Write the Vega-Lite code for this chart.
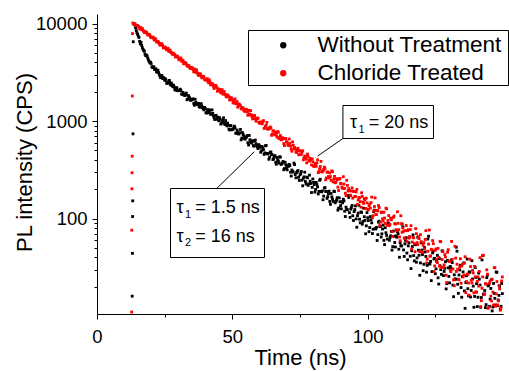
{
"$schema":"https://vega.github.io/schema/vega-lite/v6.json",
"width":406,"height":300,
"autosize":{"type":"none"},
"padding":{"left":97,"top":14,"right":6,"bottom":57},
"background":"white",
"config":{"font":"Liberation Sans","view":{"stroke":null},
 "axis":{"grid":false,"domainColor":"black","domainWidth":1,"tickColor":"black","tickWidth":1,"labelColor":"black","titleColor":"black","labelFont":"Liberation Sans","titleFont":"Liberation Sans","titleFontWeight":"normal","labelFontSize":18.5,"titleFontSize":22}},
"datasets":{
"black":[{"t":13.0,"v":16},{"t":13.1,"v":44},{"t":13.15,"v":105},{"t":13.2,"v":152},{"t":13.3,"v":740},{"t":13.4,"v":6520},{"t":13.6,"v":9900},
{"t":14,"v":9655},{"t":14.5,"v":8487},{"t":15,"v":7780},{"t":15.5,"v":7213},{"t":16,"v":6195},{"t":16.5,"v":5981},{"t":17,"v":5439},{"t":17.5,"v":5200},{"t":18,"v":4683},{"t":18.5,"v":4673},{"t":19,"v":4243},{"t":19.5,"v":3958},{"t":20,"v":3897},{"t":20.5,"v":3540},{"t":21,"v":3605},{"t":21.5,"v":3394},{"t":22,"v":3202},{"t":22.5,"v":3331},{"t":23,"v":3010},{"t":23.5,"v":2791},{"t":24,"v":2921},{"t":24.5,"v":2796},{"t":25,"v":2617},{"t":25.5,"v":2635},{"t":26,"v":2460},{"t":26.5,"v":2527},{"t":27,"v":2399},{"t":27.5,"v":2460},{"t":28,"v":2252},{"t":28.5,"v":2245},{"t":29,"v":2073},{"t":29.5,"v":2193},{"t":30,"v":2056},{"t":30.5,"v":2067},{"t":31,"v":2061},{"t":31.5,"v":1880},{"t":32,"v":1897},{"t":32.5,"v":1833},{"t":33,"v":1939},{"t":33.5,"v":1687},{"t":34,"v":1768},{"t":34.5,"v":1649},{"t":35,"v":1665},{"t":35.5,"v":1690},{"t":36,"v":1453},{"t":36.5,"v":1565},{"t":37,"v":1480},{"t":37.5,"v":1521},{"t":38,"v":1386},{"t":38.5,"v":1507},{"t":39,"v":1373},{"t":39.5,"v":1305},{"t":40,"v":1351},{"t":40.5,"v":1213},{"t":41,"v":1313},{"t":41.5,"v":1242},{"t":42,"v":1174},{"t":42.5,"v":1303},{"t":43,"v":1137},{"t":43.5,"v":1039},{"t":44,"v":1146},{"t":44.5,"v":1097},{"t":45,"v":1009},{"t":45.5,"v":1044},{"t":46,"v":955},{"t":46.5,"v":1018},{"t":47,"v":953},{"t":47.5,"v":1013},{"t":48,"v":893},{"t":48.5,"v":905},{"t":49,"v":811},{"t":49.5,"v":900},{"t":50,"v":824},{"t":50.5,"v":845},{"t":51,"v":852},{"t":51.5,"v":749},{"t":52,"v":769},{"t":52.5,"v":740},{"t":53,"v":821},{"t":53.5,"v":669},{"t":54,"v":727},{"t":54.5,"v":661},{"t":55,"v":680},{"t":55.5,"v":710},{"t":56,"v":568},{"t":56.5,"v":644},{"t":57,"v":596},{"t":57.5,"v":631},{"t":58,"v":553},{"t":58.5,"v":639},{"t":59,"v":558},{"t":59.5,"v":522},{"t":60,"v":558},{"t":60.5,"v":479},{"t":61,"v":549},{"t":61.5,"v":510},{"t":62,"v":472},{"t":62.5,"v":563},{"t":63,"v":460},{"t":63.5,"v":406},{"t":64,"v":480},{"t":64.5,"v":453},{"t":65,"v":403},{"t":65.5,"v":429},{"t":66,"v":379},{"t":66.5,"v":424},{"t":67,"v":387},{"t":67.5,"v":431},{"t":68,"v":359},{"t":68.5,"v":371},{"t":69,"v":317},{"t":69.5,"v":378},{"t":70,"v":333},{"t":70.5,"v":350},{"t":71,"v":360},{"t":71.5,"v":299},{"t":72,"v":315},{"t":72.5,"v":300},{"t":73,"v":358},{"t":73.5,"v":262},{"t":74,"v":304},{"t":74.5,"v":265},{"t":75,"v":281},{"t":75.5,"v":304},{"t":76,"v":217},{"t":76.5,"v":268},{"t":77,"v":240},{"t":77.5,"v":266},{"t":78,"v":219},{"t":78.5,"v":279},{"t":79,"v":229},{"t":79.5,"v":209},{"t":80,"v":235},{"t":80.5,"v":187},{"t":81,"v":235},{"t":81.5,"v":211},{"t":82,"v":190},{"t":82.5,"v":253},{"t":83,"v":188},{"t":83.5,"v":156},{"t":84,"v":205},{"t":84.5,"v":190},{"t":85,"v":161},{"t":85.5,"v":180},{"t":86,"v":150},{"t":86.5,"v":181},{"t":87,"v":159},{"t":87.5,"v":191},{"t":88,"v":145},{"t":88.5,"v":155},{"t":89,"v":122},{"t":89.5,"v":163},{"t":90,"v":136},{"t":90.5,"v":149},{"t":91,"v":158},{"t":91.5,"v":119},{"t":92,"v":131},{"t":92.5,"v":123},{"t":93,"v":165},{"t":93.5,"v":103},{"t":94,"v":130},{"t":94.5,"v":107},{"t":95,"v":118},{"t":95.5,"v":135},{"t":96,"v":81.5},{"t":96.5,"v":114},{"t":97,"v":98.6},{"t":97.5,"v":117},{"t":98,"v":87.6},{"t":98.5,"v":128},{"t":99,"v":95.9},{"t":99.5,"v":84.3},{"t":100,"v":102},{"t":100.5,"v":73.4},{"t":101,"v":104.9},{"t":101.5,"v":90.5},{"t":102,"v":77.8},{"t":102.5,"v":122},{"t":103,"v":78.2},{"t":103.5,"v":59.6},{"t":104,"v":91.8},{"t":104.5,"v":82.7},{"t":105,"v":64.7},{"t":105.5,"v":78.1},{"t":106,"v":59.8},{"t":106.5,"v":80.5},{"t":107,"v":67.2},{"t":107.5,"v":89.6},{"t":108,"v":59.9},{"t":108.5,"v":66.6},{"t":109,"v":47.5},{"t":109.5,"v":74.5},{"t":110,"v":56.9},{"t":110.5,"v":66.4},{"t":111,"v":73.2},{"t":111.5,"v":48.5},{"t":112,"v":56.7},{"t":112.5,"v":52.3},{"t":113,"v":81.8},{"t":113.5,"v":40.9},{"t":114,"v":59.2},{"t":114.5,"v":44.3},{"t":115,"v":52.5},{"t":115.5,"v":65.1},{"t":116,"v":30.7},{"t":116.5,"v":51.7},{"t":117,"v":41.7},{"t":117.5,"v":54.5},{"t":118,"v":35.7},{"t":118.5,"v":64.4},{"t":119,"v":42},{"t":119.5,"v":35.1},{"t":120,"v":47.5},{"t":120.5,"v":29.2},{"t":121,"v":50.5},{"t":121.5,"v":40.9},{"t":122,"v":33.1},{"t":122.5,"v":65.9},{"t":123,"v":34.2},{"t":123.5,"v":23.1},{"t":124,"v":44.5},{"t":124.5,"v":38.5},{"t":125,"v":27.2},{"t":125.5,"v":36.3},{"t":126,"v":24.7},{"t":126.5,"v":38.9},{"t":127,"v":30},{"t":127.5,"v":46.7},{"t":128,"v":26},{"t":128.5,"v":30.9},{"t":129,"v":19},{"t":129.5,"v":37.3},{"t":130,"v":25.5},{"t":130.5,"v":32.3},{"t":131,"v":37.7},{"t":131.5,"v":20.8},{"t":132,"v":26.5},{"t":132.5,"v":23.9},{"t":133,"v":46.3},{"t":133.5,"v":17.1},{"t":134,"v":29.7},{"t":134.5,"v":19.6},{"t":135,"v":25.4},{"t":135.5,"v":35.1},{"t":136,"v":12},{"t":136.5,"v":25.9},{"t":137,"v":19.1},{"t":137.5,"v":28.4},{"t":138,"v":15.7},{"t":138.5,"v":37},{"t":139,"v":20.3},{"t":139.5,"v":15.9},{"t":140,"v":24.8},{"t":140.5,"v":12.5},{"t":141,"v":27.6},{"t":141.5,"v":20.8},{"t":142,"v":15.5},{"t":142.5,"v":41.7},{"t":143,"v":16.7},{"t":143.5,"v":12.2},{"t":144,"v":24.8},{"t":144.5,"v":20.4},{"t":145,"v":12.6},{"t":145.5,"v":19.2},{"t":146,"v":11.3},{"t":146.5,"v":21.6},{"t":147,"v":15.2},{"t":147.5,"v":28.3},{"t":148,"v":12.8},{"t":148.5,"v":16.3},{"t":149,"v":11.8},{"t":149.5,"v":21.6},
{"t":14.25,"v":9091},{"t":14.75,"v":8062},{"t":15.25,"v":7470},{"t":15.75,"v":6580},{"t":16.25,"v":6421},{"t":16.75,"v":5674},{"t":17.25,"v":5300},{"t":17.75,"v":4851},{"t":18.25,"v":4753},{"t":18.75,"v":4424},{"t":19.25,"v":4102},{"t":19.75,"v":4021},{"t":20.25,"v":3607},{"t":20.75,"v":3600},{"t":21.25,"v":3393},{"t":21.75,"v":3444},{"t":22.25,"v":3178},{"t":22.75,"v":3144},{"t":23.25,"v":2896},{"t":23.75,"v":2917},{"t":24.25,"v":2735},{"t":24.75,"v":2756},{"t":25.25,"v":2718},{"t":25.75,"v":2440},{"t":26.25,"v":2486},{"t":26.75,"v":2615},{"t":27.25,"v":2339},{"t":27.75,"v":2337},{"t":28.25,"v":2338},{"t":28.75,"v":2112},{"t":29.25,"v":2199},{"t":29.75,"v":2052},{"t":30.25,"v":2051},{"t":30.75,"v":2124},{"t":31.25,"v":1896},{"t":31.75,"v":1970},{"t":32.25,"v":1842},{"t":32.75,"v":1858},{"t":33.25,"v":1656},{"t":33.75,"v":1831},{"t":34.25,"v":1723},{"t":34.75,"v":1629},{"t":35.25,"v":1668},{"t":35.75,"v":1516},{"t":36.25,"v":1677},{"t":36.75,"v":1507},{"t":37.25,"v":1492},{"t":37.75,"v":1408},{"t":38.25,"v":1490},{"t":38.75,"v":1423},{"t":39.25,"v":1342},{"t":39.75,"v":1382},{"t":40.25,"v":1216},{"t":40.75,"v":1279},{"t":41.25,"v":1214},{"t":41.75,"v":1297},{"t":42.25,"v":1181},{"t":42.75,"v":1201},{"t":43.25,"v":1083},{"t":43.75,"v":1128},{"t":44.25,"v":1044},{"t":44.75,"v":1084},{"t":45.25,"v":1085},{"t":45.75,"v":932},{"t":46.25,"v":982},{"t":46.75,"v":1081},{"t":47.25,"v":923},{"t":47.75,"v":939},{"t":48.25,"v":955},{"t":48.75,"v":828},{"t":49.25,"v":897},{"t":49.75,"v":815},{"t":50.25,"v":828},{"t":50.75,"v":886},{"t":51.25,"v":753},{"t":51.75,"v":810},{"t":52.25,"v":739},{"t":52.75,"v":759},{"t":53.25,"v":642},{"t":53.75,"v":763},{"t":54.25,"v":703},{"t":54.75,"v":653},{"t":55.25,"v":688},{"t":55.75,"v":601},{"t":56.25,"v":712},{"t":56.75,"v":611},{"t":57.25,"v":608},{"t":57.75,"v":561},{"t":58.25,"v":621},{"t":58.75,"v":586},{"t":59.25,"v":541},{"t":59.75,"v":574},
{"t":60.25,"v":538},{"t":60.75,"v":496},{"t":61.25,"v":529},{"t":61.75,"v":455},{"t":62.25,"v":558},{"t":62.75,"v":466},{"t":63.25,"v":465},{"t":63.75,"v":427},{"t":64.25,"v":481},{"t":64.75,"v":451},{"t":65.25,"v":413},{"t":65.75,"v":443},{"t":66.25,"v":361},{"t":66.75,"v":401},{"t":67.25,"v":371},{"t":67.75,"v":426},{"t":68.25,"v":366},{"t":68.75,"v":385},{"t":69.25,"v":326},{"t":69.75,"v":356},{"t":70.25,"v":316},{"t":70.75,"v":343},{"t":71.25,"v":350},{"t":71.75,"v":273},{"t":72.25,"v":304},{"t":72.75,"v":371},{"t":73.25,"v":283},{"t":73.75,"v":296},{"t":74.25,"v":311},{"t":74.75,"v":246},{"t":75.25,"v":288},{"t":75.75,"v":248},{"t":76.25,"v":259},{"t":76.75,"v":299},{"t":77.25,"v":226},{"t":77.75,"v":262},{"t":78.25,"v":227},{"t":78.75,"v":242},{"t":79.25,"v":185},{"t":79.75,"v":255},{"t":80.25,"v":223},{"t":80.75,"v":199},{"t":81.25,"v":223},{"t":81.75,"v":179},{"t":82.25,"v":247},{"t":82.75,"v":190},{"t":83.25,"v":192},{"t":83.75,"v":170},{"t":84.25,"v":208},{"t":84.75,"v":190},{"t":85.25,"v":168},{"t":85.75,"v":191},{"t":86.25,"v":140},{"t":86.75,"v":167},{"t":87.25,"v":150},{"t":87.75,"v":189},{"t":88.25,"v":150},{"t":88.75,"v":164},{"t":89.25,"v":128},{"t":89.75,"v":149},{"t":90.25,"v":126},{"t":90.75,"v":145},{"t":91.25,"v":152},{"t":91.75,"v":105},{"t":92.25,"v":124.5},{"t":92.75,"v":172.7},{"t":93.25,"v":115},{"t":93.75,"v":125},{"t":94.25,"v":136.3},{"t":94.75,"v":95.6},{"t":95.25,"v":123.7},{"t":95.75,"v":99.3},{"t":96.25,"v":107.3},{"t":96.75,"v":136.7},{"t":97.25,"v":90.5},{"t":97.75,"v":115.6},{"t":98.25,"v":93.3},{"t":98.75,"v":104.5},{"t":99.25,"v":69.8},{"t":99.75,"v":115.2},{"t":100.25,"v":95.3},{"t":100.75,"v":80.9},{"t":101.25,"v":97.4},{"t":101.75,"v":70.2},{"t":102.25,"v":117.6},{"t":102.75,"v":79.1},{"t":103.25,"v":81.3},{"t":103.75,"v":68.5},{"t":104.25,"v":94},{"t":104.75,"v":83.3},{"t":105.25,"v":69.8},{"t":105.75,"v":85.8},{"t":106.25,"v":54.1},{"t":106.75,"v":71.6},{"t":107.25,"v":61.7},{"t":107.75,"v":88.8},{"t":108.25,"v":63.7},{"t":108.75,"v":73.7},{"t":109.25,"v":51.5},{"t":109.75,"v":65.8},{"t":110.25,"v":51.1},{"t":110.75,"v":64.4},{"t":111.25,"v":69.8},{"t":111.75,"v":40.1},{"t":112.25,"v":52.8},{"t":112.75,"v":87.6},{"t":113.25,"v":47.7},{"t":113.75,"v":55},{"t":114.25,"v":63.7},{"t":114.75,"v":37.8},{"t":115.25,"v":56.5},{"t":115.75,"v":41.1},{"t":116.25,"v":46.8},{"t":116.75,"v":68.1},{"t":117.25,"v":36.8},{"t":117.75,"v":53.9},{"t":118.25,"v":39.5},{"t":118.75,"v":47.4},{"t":119.25,"v":26.2},{"t":119.75,"v":56.4},{"t":120.25,"v":42.8},{"t":120.75,"v":34},{"t":121.25,"v":45.5},{"t":121.75,"v":28.2},{"t":122.25,"v":61.7},{"t":122.75,"v":34.5},{"t":123.25,"v":36.4},{"t":123.75,"v":28.6},{"t":124.25,"v":46.4},{"t":124.75,"v":39.1},{"t":125.25,"v":30.5},{"t":125.75,"v":42},{"t":126.25,"v":21.3},{"t":126.75,"v":32.8},{"t":127.25,"v":26.8},{"t":127.75,"v":46.3},{"t":128.25,"v":28.7},{"t":128.75,"v":36.1},{"t":129.25,"v":21.5},{"t":129.75,"v":31.2},{"t":130.25,"v":21.9},{"t":130.75,"v":31.1},{"t":131.25,"v":35.3},{"t":131.75,"v":15.8},{"t":132.25,"v":24},{"t":132.75,"v":50.9},{"t":133.25,"v":21.2},{"t":133.75,"v":26.4},{"t":134.25,"v":33.2},{"t":134.75,"v":15.6},{"t":135.25,"v":28.4},{"t":135.75,"v":18.1},{"t":136.25,"v":22.1},{"t":136.75,"v":38.5},{"t":137.25,"v":16.1},{"t":137.75,"v":28.2},{"t":138.25,"v":18.3},{"t":138.75,"v":24},{"t":139.25,"v":12.3},{"t":139.75,"v":31.5},{"t":140.25,"v":21.5},{"t":140.75,"v":15.6},{"t":141.25,"v":23.9},{"t":141.75,"v":12.3},{"t":142.25,"v":37.7},{"t":142.75,"v":16.8},{"t":143.25,"v":18.3},{"t":143.75,"v":13.1},{"t":144.25,"v":26.3},{"t":144.75,"v":20.9},{"t":145.25,"v":14.9},{"t":145.75,"v":23.6},{"t":146.25,"v":12.4},{"t":146.75,"v":17.1},{"t":147.25,"v":13},{"t":147.75,"v":28.1},{"t":148.25,"v":14.6},{"t":148.75,"v":20.2},{"t":149.25,"v":12.6},{"t":149.75,"v":17}],
"red":[{"t":12.8,"v":11},{"t":12.85,"v":76},{"t":12.9,"v":202},{"t":12.95,"v":295},{"t":13.0,"v":436},{"t":13.05,"v":1810},{"t":13.1,"v":7900},{"t":13.25,"v":10150},{"t":13.6,"v":10050},
{"t":14,"v":9947},{"t":14.5,"v":9513},{"t":15,"v":9518},{"t":15.5,"v":9163},{"t":16,"v":9160},{"t":16.5,"v":8666},{"t":17,"v":8539},{"t":17.5,"v":8114},{"t":18,"v":8225},{"t":18.5,"v":7863},{"t":19,"v":7778},{"t":19.5,"v":7660},{"t":20,"v":7231},{"t":20.5,"v":7160},{"t":21,"v":6947},{"t":21.5,"v":7043},{"t":22,"v":6496},{"t":22.5,"v":6545},{"t":23,"v":6242},{"t":23.5,"v":6186},{"t":24,"v":6148},{"t":24.5,"v":5639},{"t":25,"v":5757},{"t":25.5,"v":5528},{"t":26,"v":5521},{"t":26.5,"v":5205},{"t":27,"v":5345},{"t":27.5,"v":5037},{"t":28,"v":4842},{"t":28.5,"v":4858},{"t":29,"v":4546},{"t":29.5,"v":4664},{"t":30,"v":4473},{"t":30.5,"v":4290},{"t":31,"v":4445},{"t":31.5,"v":4106},{"t":32,"v":3869},{"t":32.5,"v":4011},{"t":33,"v":3869},{"t":33.5,"v":3664},{"t":34,"v":3672},{"t":34.5,"v":3466},{"t":35,"v":3528},{"t":35.5,"v":3369},{"t":36,"v":3422},{"t":36.5,"v":3172},{"t":37,"v":3148},{"t":37.5,"v":2940},{"t":38,"v":3056},{"t":38.5,"v":2884},{"t":39,"v":2879},{"t":39.5,"v":2854},{"t":40,"v":2638},{"t":40.5,"v":2637},{"t":41,"v":2551},{"t":41.5,"v":2649},{"t":42,"v":2356},{"t":42.5,"v":2428},{"t":43,"v":2280},{"t":43.5,"v":2283},{"t":44,"v":2300},{"t":44.5,"v":2024},{"t":45,"v":2132},{"t":45.5,"v":2023},{"t":46,"v":2054},{"t":46.5,"v":1893},{"t":47,"v":2010},{"t":47.5,"v":1854},{"t":48,"v":1767},{"t":48.5,"v":1805},{"t":49,"v":1645},{"t":49.5,"v":1741},{"t":50,"v":1653},{"t":50.5,"v":1568},{"t":51,"v":1689},{"t":51.5,"v":1508},{"t":52,"v":1389},{"t":52.5,"v":1498},{"t":53,"v":1435},{"t":53.5,"v":1333},{"t":54,"v":1360},{"t":54.5,"v":1258},{"t":55,"v":1315},{"t":55.5,"v":1239},{"t":56,"v":1290},{"t":56.5,"v":1159},{"t":57,"v":1163},{"t":57.5,"v":1054},{"t":58,"v":1144},{"t":58.5,"v":1057},{"t":59,"v":1072},{"t":59.5,"v":1073},{"t":60,"v":958},{"t":60.5,"v":974},{"t":61,"v":937},{"t":61.5,"v":1012},{"t":62,"v":849},{"t":62.5,"v":907},{"t":63,"v":832},{"t":63.5,"v":847},{"t":64,"v":870},{"t":64.5,"v":715},{"t":65,"v":794},{"t":65.5,"v":741},{"t":66,"v":771},{"t":66.5,"v":685},{"t":67,"v":768},{"t":67.5,"v":684},{"t":68,"v":642},{"t":68.5,"v":676},{"t":69,"v":588},{"t":69.5,"v":658},{"t":70,"v":614},{"t":70.5,"v":572},{"t":71,"v":655},{"t":71.5,"v":554},{"t":72,"v":491},{"t":72.5,"v":566},{"t":73,"v":536},{"t":73.5,"v":482},{"t":74,"v":507},{"t":74.5,"v":452},{"t":75,"v":495},{"t":75.5,"v":456},{"t":76,"v":496},{"t":76.5,"v":422},{"t":77,"v":432},{"t":77.5,"v":373},{"t":78,"v":434},{"t":78.5,"v":388},{"t":79,"v":403},{"t":79.5,"v":410},{"t":80,"v":346},{"t":80.5,"v":361},{"t":81,"v":344},{"t":81.5,"v":400},{"t":82,"v":303},{"t":82.5,"v":342},{"t":83,"v":302},{"t":83.5,"v":317},{"t":84,"v":337},{"t":84.5,"v":250},{"t":85,"v":299},{"t":85.5,"v":270},{"t":86,"v":294},{"t":86.5,"v":247},{"t":87,"v":303},{"t":87.5,"v":254},{"t":88,"v":233},{"t":88.5,"v":257},{"t":89,"v":210},{"t":89.5,"v":254},{"t":90,"v":230},{"t":90.5,"v":209},{"t":91,"v":269},{"t":91.5,"v":204},{"t":92,"v":172},{"t":92.5,"v":219},{"t":93,"v":203},{"t":93.5,"v":174},{"t":94,"v":192},{"t":94.5,"v":162},{"t":95,"v":190},{"t":95.5,"v":169},{"t":96,"v":199},{"t":96.5,"v":155},{"t":97,"v":163},{"t":97.5,"v":131},{"t":98,"v":169},{"t":98.5,"v":143},{"t":99,"v":155},{"t":99.5,"v":162},{"t":100,"v":125},{"t":100.5,"v":136},{"t":101,"v":128},{"t":101.5,"v":166},{"t":102,"v":107},{"t":102.5,"v":133},{"t":103,"v":110},{"t":103.5,"v":121},{"t":104,"v":136},{"t":104.5,"v":85},{"t":105,"v":115},{"t":105.5,"v":99.5},{"t":106,"v":116},{"t":106.5,"v":89},{"t":107,"v":126},{"t":107.5,"v":95.6},{"t":108,"v":84.6},{"t":108.5,"v":101},{"t":109,"v":73.7},{"t":109.5,"v":102.6},{"t":110,"v":89},{"t":110.5,"v":76.9},{"t":111,"v":117.5},{"t":111.5,"v":76.8},{"t":112,"v":59.2},{"t":112.5,"v":88.7},{"t":113,"v":80},{"t":113.5,"v":63.3},{"t":114,"v":75.2},{"t":114.5,"v":58.2},{"t":115,"v":76.9},{"t":115.5,"v":64.5},{"t":116,"v":84.6},{"t":116.5,"v":57.4},{"t":117,"v":63.4},{"t":117.5,"v":45.7},{"t":118,"v":70},{"t":118.5,"v":54.1},{"t":119,"v":62.3},{"t":119.5,"v":68.4},{"t":120,"v":45.8},{"t":120.5,"v":53.1},{"t":121,"v":48.9},{"t":121.5,"v":75.2},{"t":122,"v":38.3},{"t":122.5,"v":54.7},{"t":123,"v":41.1},{"t":123.5,"v":48.4},{"t":124,"v":59.5},{"t":124.5,"v":28.6},{"t":125,"v":47.3},{"t":125.5,"v":38.2},{"t":126,"v":49.4},{"t":126.5,"v":32.6},{"t":127,"v":57.9},{"t":127.5,"v":38},{"t":128,"v":31.7},{"t":128.5,"v":42.7},{"t":129,"v":26.3},{"t":129.5,"v":45.1},{"t":130,"v":36.6},{"t":130.5,"v":29.6},{"t":131,"v":58.3},{"t":131.5,"v":30.4},{"t":132,"v":20.5},{"t":132.5,"v":39.3},{"t":133,"v":34},{"t":133.5,"v":23.9},{"t":134,"v":31.9},{"t":134.5,"v":21.7},{"t":135,"v":34},{"t":135.5,"v":26.3},{"t":136,"v":40.6},{"t":136.5,"v":22.6},{"t":137,"v":26.7},{"t":137.5,"v":16.4},{"t":138,"v":32.2},{"t":138.5,"v":21.9},{"t":139,"v":27.7},{"t":139.5,"v":32.3},{"t":140,"v":17.8},{"t":140.5,"v":22.7},{"t":141,"v":20.3},{"t":141.5,"v":39.7},{"t":142,"v":14.4},{"t":142.5,"v":25.2},{"t":143,"v":16.6},{"t":143.5,"v":21.5},{"t":144,"v":29.8},{"t":144.5,"v":12},{"t":145,"v":21.7},{"t":145.5,"v":16},{"t":146,"v":23.9},{"t":146.5,"v":13},{"t":147,"v":31.3},{"t":147.5,"v":16.9},{"t":148,"v":13},{"t":148.5,"v":20.6},{"t":149,"v":11.5},{"t":149.5,"v":22.9},
{"t":14.25,"v":9655},{"t":14.75,"v":9601},{"t":15.25,"v":9427},{"t":15.75,"v":8831},{"t":16.25,"v":8812},{"t":16.75,"v":8939},{"t":17.25,"v":8344},{"t":17.75,"v":8240},{"t":18.25,"v":8134},{"t":18.75,"v":7643},{"t":19.25,"v":7696},{"t":19.75,"v":7337},{"t":20.25,"v":7236},{"t":20.75,"v":7269},{"t":21.25,"v":6778},{"t":21.75,"v":6820},{"t":22.25,"v":6501},{"t":22.75,"v":6445},{"t":23.25,"v":6009},{"t":23.75,"v":6228},{"t":24.25,"v":5959},{"t":24.75,"v":5714},{"t":25.25,"v":5708},{"t":25.75,"v":5377},{"t":26.25,"v":5576},{"t":26.75,"v":5209},{"t":27.25,"v":5110},{"t":27.75,"v":4894},{"t":28.25,"v":4967},{"t":28.75,"v":4787},{"t":29.25,"v":4587},{"t":29.75,"v":4597},{"t":30.25,"v":4249},{"t":30.75,"v":4300},{"t":31.25,"v":4130},{"t":31.75,"v":4217},{"t":32.25,"v":3962},{"t":32.75,"v":3945},{"t":33.25,"v":3691},{"t":33.75,"v":3721},{"t":34.25,"v":3526},{"t":34.75,"v":3546},{"t":35.25,"v":3499},{"t":35.75,"v":3199},{"t":36.25,"v":3237},{"t":36.75,"v":3361},{"t":37.25,"v":3054},{"t":37.75,"v":3041},{"t":38.25,"v":3027},{"t":38.75,"v":2774},{"t":39.25,"v":2852},{"t":39.75,"v":2680},{"t":40.25,"v":2662},{"t":40.75,"v":2724},{"t":41.25,"v":2469},{"t":41.75,"v":2533},{"t":42.25,"v":2382},{"t":42.75,"v":2383},{"t":43.25,"v":2158},{"t":43.75,"v":2327},{"t":44.25,"v":2200},{"t":44.75,"v":2088},{"t":45.25,"v":2117},{"t":45.75,"v":1949},{"t":46.25,"v":2104},{"t":46.75,"v":1912},{"t":47.25,"v":1882},{"t":47.75,"v":1784},{"t":48.25,"v":1856},{"t":48.75,"v":1778},{"t":49.25,"v":1682},{"t":49.75,"v":1715},{"t":50.25,"v":1533},{"t":50.75,"v":1588},{"t":51.25,"v":1511},{"t":51.75,"v":1586},{"t":52.25,"v":1458},{"t":52.75,"v":1469},{"t":53.25,"v":1339},{"t":53.75,"v":1378},{"t":54.25,"v":1283},{"t":54.75,"v":1316},{"t":55.25,"v":1308},{"t":55.75,"v":1146},{"t":56.25,"v":1188},{"t":56.75,"v":1282},{"t":57.25,"v":1115},{"t":57.75,"v":1125},{"t":58.25,"v":1134},{"t":58.75,"v":998},{"t":59.25,"v":1063},{"t":59.75,"v":976},
{"t":60.25,"v":948},{"t":60.75,"v":979},{"t":61.25,"v":978},{"t":61.75,"v":843},{"t":62.25,"v":881},{"t":62.75,"v":971},{"t":63.25,"v":826},{"t":63.75,"v":837},{"t":64.25,"v":849},{"t":64.75,"v":735},{"t":65.25,"v":793},{"t":65.75,"v":721},{"t":66.25,"v":728},{"t":66.75,"v":780},{"t":67.25,"v":661},{"t":67.75,"v":710},{"t":68.25,"v":645},{"t":68.75,"v":661},{"t":69.25,"v":560},{"t":69.75,"v":663},{"t":70.25,"v":607},{"t":70.75,"v":563},{"t":71.25,"v":592},{"t":71.75,"v":516},{"t":72.25,"v":612},{"t":72.75,"v":521},{"t":73.25,"v":517},{"t":73.75,"v":477},{"t":74.25,"v":527},{"t":74.75,"v":495},{"t":75.25,"v":456},{"t":75.75,"v":484},{"t":76.25,"v":401},{"t":76.75,"v":438},{"t":77.25,"v":407},{"t":77.75,"v":459},{"t":78.25,"v":398},{"t":78.75,"v":414},{"t":79.25,"v":355},{"t":79.75,"v":383},{"t":80.25,"v":343},{"t":80.75,"v":368},{"t":81.25,"v":372},{"t":81.75,"v":296},{"t":82.25,"v":323},{"t":82.75,"v":386},{"t":83.25,"v":301},{"t":83.75,"v":313},{"t":84.25,"v":325},{"t":84.75,"v":261},{"t":85.25,"v":301},{"t":85.75,"v":261},{"t":86.25,"v":270},{"t":86.75,"v":308},{"t":87.25,"v":238},{"t":87.75,"v":271},{"t":88.25,"v":236},{"t":88.75,"v":250},{"t":89.25,"v":194},{"t":89.75,"v":258},{"t":90.25,"v":227},{"t":90.75,"v":204},{"t":91.25,"v":226},{"t":91.75,"v":182},{"t":92.25,"v":247},{"t":92.75,"v":192},{"t":93.25,"v":193},{"t":93.75,"v":172},{"t":94.25,"v":206},{"t":94.75,"v":190},{"t":95.25,"v":168},{"t":95.75,"v":188},{"t":96.25,"v":140},{"t":96.75,"v":165},{"t":97.25,"v":149},{"t":97.75,"v":184},{"t":98.25,"v":148},{"t":98.75,"v":160},{"t":99.25,"v":127},{"t":99.75,"v":145},{"t":100.25,"v":123},{"t":100.75,"v":141},{"t":101.25,"v":146},{"t":101.75,"v":102},{"t":102.25,"v":120},{"t":102.75,"v":163},{"t":103.25,"v":110},{"t":103.75,"v":120},{"t":104.25,"v":129.5},{"t":104.75,"v":91.9},{"t":105.25,"v":116.7},{"t":105.75,"v":94.4},{"t":106.25,"v":101.4},{"t":106.75,"v":127.8},{"t":107.25,"v":85.3},{"t":107.75,"v":107.4},{"t":108.25,"v":87.3},{"t":108.75,"v":97.1},{"t":109.25,"v":65.5},{"t":109.75,"v":106.1},{"t":110.25,"v":87.9},{"t":110.75,"v":74.8},{"t":111.25,"v":89.4},{"t":111.75,"v":64.8},{"t":112.25,"v":106.8},{"t":112.75,"v":72.3},{"t":113.25,"v":74.1},{"t":113.75,"v":62.4},{"t":114.25,"v":84.9},{"t":114.75,"v":75.3},{"t":115.25,"v":63},{"t":115.75,"v":77.1},{"t":116.25,"v":48.7},{"t":116.75,"v":64.1},{"t":117.25,"v":55.4},{"t":117.75,"v":78.9},{"t":118.25,"v":56.7},{"t":118.75,"v":65.4},{"t":119.25,"v":45.7},{"t":119.75,"v":58.1},{"t":120.25,"v":45.1},{"t":120.75,"v":56.7},{"t":121.25,"v":61.1},{"t":121.75,"v":35.1},{"t":122.25,"v":46.2},{"t":122.75,"v":76.3},{"t":123.25,"v":41.4},{"t":123.75,"v":47.7},{"t":124.25,"v":55.3},{"t":124.75,"v":32.7},{"t":125.25,"v":48.8},{"t":125.75,"v":35.3},{"t":126.25,"v":40.1},{"t":126.75,"v":58.4},{"t":127.25,"v":31.4},{"t":127.75,"v":46},{"t":128.25,"v":33.5},{"t":128.75,"v":40.4},{"t":129.25,"v":22.1},{"t":129.75,"v":48},{"t":130.25,"v":36.2},{"t":130.75,"v":28.6},{"t":131.25,"v":38.2},{"t":131.75,"v":23.5},{"t":132.25,"v":52},{"t":132.75,"v":28.7},{"t":133.25,"v":30.3},{"t":133.75,"v":23.6},{"t":134.25,"v":38.7},{"t":134.75,"v":32.6},{"t":135.25,"v":25.2},{"t":135.75,"v":34.9},{"t":136.25,"v":17.4},{"t":136.75,"v":27},{"t":137.25,"v":21.8},{"t":137.75,"v":38.3},{"t":138.25,"v":23.3},{"t":138.75,"v":29.5},{"t":139.25,"v":17.3},{"t":139.75,"v":25.3},{"t":140.25,"v":17.5},{"t":140.75,"v":25.2},{"t":141.25,"v":28.7},{"t":141.75,"v":12.5},{"t":142.25,"v":19.3},{"t":142.75,"v":42},{"t":143.25,"v":16.9},{"t":143.75,"v":21.3},{"t":144.25,"v":26.9},{"t":144.75,"v":12.4},{"t":145.25,"v":22.9},{"t":145.75,"v":14.3},{"t":146.25,"v":17.6},{"t":146.75,"v":31.4},{"t":147.25,"v":12.6},{"t":147.75,"v":22.6},{"t":148.25,"v":14.3},{"t":148.75,"v":19},{"t":149.25,"v":12.1},{"t":149.75,"v":25.2}],
"boxes":[{"t":55.97,"t2":152.03,"v":8500,"v2":2318},{"t":90.86,"t2":124.32,"v":1445,"v2":662.8},{"t":27.16,"t2":61.88,"v":203.5,"v2":39.86}],
"lines":[{"t":81.54,"v":438.5,"t2":90.86,"v2":662.8},{"t":44.22,"v":203.5,"t2":58.12,"v2":485.3}],
"notes":[{"t":93.47,"v":849,"a":"τ","s":"1","r":"= 20 ns"},{"t":29.37,"v":113.3,"a":"τ","s":"1","r":"= 1.5 ns"},{"t":29.37,"v":57.9,"a":"τ","s":"2","r":"= 16 ns"}]
},
"encoding":{
 "x":{"field":"t","type":"quantitative","scale":{"domain":[0,150],"nice":false,"zero":false},
  "axis":{"title":"Time (ns)","values":[0,25,50,75,100,125],"labelExpr":"datum.value % 50 === 0 ? datum.label : ''","tickSize":{"condition":{"test":"datum.value % 50 === 0","value":5},"value":3},"labelPadding":8,"labelFlush":false,"labelOverlap":false,"titleBaseline":"alphabetic","titleY":50}},
 "y":{"field":"v","type":"quantitative","scale":{"type":"log","domain":[10.5,12550],"nice":false},
  "axis":{"title":"PL intensity (CPS)","values":[20,30,40,50,60,70,80,90,100,200,300,400,500,600,700,800,900,1000,2000,3000,4000,5000,6000,7000,8000,9000,10000],"format":"d","labelExpr":"datum.value === 100 || datum.value === 1000 || datum.value === 10000 ? datum.label : ''","tickSize":{"condition":{"test":"datum.value === 100 || datum.value === 1000 || datum.value === 10000","value":5},"value":3},"labelPadding":5,"labelOverlap":false,"titleBaseline":"alphabetic","titleX":-66,"titleY":148}}
},
"layer":[
 {"data":{"name":"black"},"mark":{"type":"point","shape":"square","filled":true,"size":8,"opacity":1,"strokeWidth":0},
  "encoding":{"color":{"datum":"Without Treatment","type":"nominal","scale":{"domain":["Without Treatment","Chloride Treated"],"range":["#000000","#ff0000"]},
   "legend":{"title":null,"orient":"none","legendX":175,"legendY":20,"symbolType":"circle","symbolSize":40,"symbolStrokeWidth":0,"labelFontSize":22.5,"labelFont":"Liberation Sans","labelColor":"black","labelLimit":0,"labelOffset":23,"rowPadding":5,"padding":0}}}},
 {"data":{"name":"red"},"mark":{"type":"point","shape":"square","filled":true,"size":8,"opacity":1,"strokeWidth":0},
  "encoding":{"color":{"datum":"Chloride Treated","type":"nominal"}}},
 {"data":{"name":"boxes"},"mark":{"type":"rect","fill":"white","stroke":"black","strokeWidth":1},
  "encoding":{"x2":{"field":"t2"},"y2":{"field":"v2"}}},
 {"data":{"name":"lines"},"mark":{"type":"rule","color":"black","strokeWidth":1},
  "encoding":{"x2":{"field":"t2"},"y2":{"field":"v2"}}},
 {"data":{"name":"notes"},"mark":{"type":"text","align":"left","baseline":"alphabetic","fontSize":18,"font":"Liberation Sans","color":"black"},
  "encoding":{"text":{"field":"a"}}},
 {"data":{"name":"notes"},"mark":{"type":"text","align":"left","baseline":"alphabetic","fontSize":11,"font":"Liberation Sans","color":"black","dx":8.5,"dy":4.5},
  "encoding":{"text":{"field":"s"}}},
 {"data":{"name":"notes"},"mark":{"type":"text","align":"left","baseline":"alphabetic","fontSize":18,"font":"Liberation Sans","color":"black","dx":18.8},
  "encoding":{"text":{"field":"r"}}}
]
}
